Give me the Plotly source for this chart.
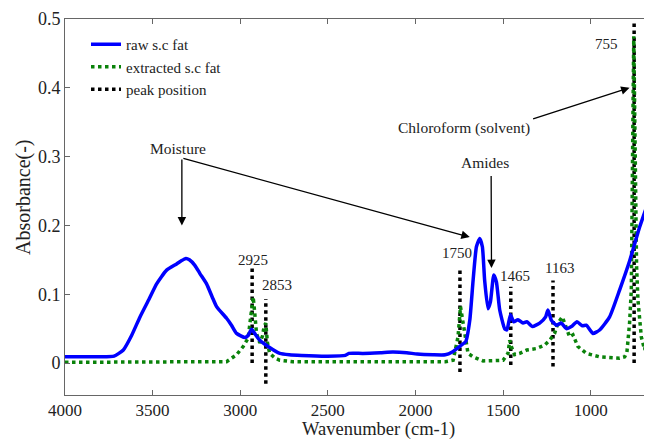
import plotly.graph_objects as go

# ---------------- data ----------------
raw_wn = [4000, 3900, 3800, 3720, 3667, 3620, 3572, 3520, 3477, 3420, 3363, 3340,
          3310, 3290, 3259, 3230, 3192, 3160, 3135, 3078, 3050, 3021, 2973, 2955,
          2935, 2915, 2888, 2841, 2774, 2720, 2650, 2500, 2400, 2380, 2300, 2200,
          2130, 2050, 1990, 1900, 1830, 1790, 1738, 1713, 1690, 1671, 1652, 1633,
          1618, 1605, 1586, 1572, 1553, 1538, 1519, 1491, 1478, 1458, 1439, 1415,
          1386, 1364, 1333, 1291, 1257, 1244, 1224, 1196, 1167, 1139, 1110, 1078,
          1048, 1025, 987, 949, 892, 835, 777, 720, 663, 650]
raw_abs = [0.009, 0.009, 0.009, 0.010, 0.019, 0.040, 0.067, 0.093, 0.115, 0.135, 0.144, 0.148,
           0.152, 0.150, 0.142, 0.130, 0.115, 0.096, 0.082, 0.065, 0.055, 0.043, 0.037, 0.040,
           0.049, 0.042, 0.033, 0.024, 0.014, 0.012, 0.011, 0.010, 0.011, 0.014, 0.014, 0.015,
           0.016, 0.015, 0.013, 0.012, 0.012, 0.016, 0.026, 0.031, 0.062, 0.120, 0.169, 0.181,
           0.169, 0.120, 0.079, 0.089, 0.128, 0.118, 0.077, 0.050, 0.048, 0.070, 0.060, 0.063,
           0.058, 0.060, 0.053, 0.058, 0.067, 0.077, 0.062, 0.055, 0.058, 0.050, 0.053, 0.060,
           0.054, 0.055, 0.043, 0.048, 0.067, 0.106, 0.149, 0.198, 0.240, 0.250]

ext_wn = [4000, 3500, 3100, 3078, 3021, 2983, 2955, 2945, 2935, 2926, 2918, 2907,
          2888, 2872, 2864, 2854, 2845, 2832, 2800, 2774, 2700, 2200, 1830, 1785,
          1757, 1743, 1724, 1700, 1671, 1614, 1500, 1472, 1462, 1453, 1434, 1405,
          1364, 1310, 1263, 1234, 1206, 1187, 1162, 1143, 1120, 1101, 1073, 1025,
          949, 835, 806, 793, 788, 778, 768, 763, 758, 754, 750, 745, 738, 730,
          711, 692, 673, 660, 650]
ext_abs = [0.001, 0.001, 0.001, 0.002, 0.012, 0.024, 0.036, 0.055, 0.077, 0.096, 0.075, 0.043,
           0.029, 0.040, 0.053, 0.058, 0.030, 0.014, 0.007, 0.004, 0.002, 0.002, 0.002, 0.004,
           0.038, 0.082, 0.048, 0.014, 0.009, 0.003, 0.004, 0.014, 0.033, 0.024, 0.012, 0.014,
           0.019, 0.021, 0.026, 0.033, 0.043, 0.058, 0.067, 0.053, 0.038, 0.041, 0.024, 0.014,
           0.009, 0.007, 0.009, 0.016, 0.029, 0.058, 0.106, 0.200, 0.380, 0.475, 0.400, 0.250, 0.140, 0.091,
           0.038, 0.019, 0.048, 0.062, 0.065]

peak_pos = [2932, 2854, 1746, 1456, 1215, 752]
peak_bottom = [0.0, -0.03, -0.013, -0.003, -0.005, 0.0]
peak_top = [0.14, 0.093, 0.137, 0.111, 0.12, 0.495]
peak_labels = ["2925", "2853", "1750", "1465", "1163", "755"]
label_x = [2928, 2793, 1763, 1434, 1177, 909]
label_y = [0.149, 0.114, 0.160, 0.126, 0.138, 0.464]

x_ticks = [4000, 3500, 3000, 2500, 2000, 1500, 1000]
y_ticks = [0, 0.1, 0.2, 0.3, 0.4, 0.5]

FONT = "Liberation Serif, Times New Roman, serif"
TXT = "#222222"

# page body has an 8px default margin; figure size/margins compensate for it
PAGE_OFF = 8
PLOT_L, PLOT_R, PLOT_T, PLOT_B = 65, 652, 19, 395   # plot area in page pixels
PW, PH = PLOT_R - PLOT_L, PLOT_B - PLOT_T


def paper_x(px):
    return (px - PLOT_L) / PW


def paper_y(py):
    return (PLOT_B - py) / PH


# ---------------- figure ----------------
px_, py_ = [], []
for p, b, t in zip(peak_pos, peak_bottom, peak_top):
    px_ += [p, p, None]
    py_ += [b, t, None]

fig = go.Figure()
fig.add_trace(go.Scatter(x=px_, y=py_, mode="lines", name="peak position",
                         line=dict(color="black", width=3.5, dash="dot"),
                         legendrank=3))
fig.add_trace(go.Scatter(x=ext_wn, y=ext_abs, mode="lines", name="extracted s.c fat",
                         line=dict(color="#0a820a", width=3.5, dash="dot"),
                         legendrank=2))
fig.add_trace(go.Scatter(x=raw_wn, y=raw_abs, mode="lines", name="raw s.c fat",
                         line=dict(color="#0000ff", width=3.5, shape="spline", smoothing=0.5),
                         legendrank=1))

ann = []
for t, x, y in zip(peak_labels, label_x, label_y):
    ann.append(dict(x=x, y=y, text=t, showarrow=False, xref="x", yref="y",
                    font=dict(size=15, family=FONT, color=TXT)))

# annotation texts
ann.append(dict(x=3356, y=0.312, text="Moisture", showarrow=False,
                font=dict(size=15.5, family=FONT, color=TXT)))
ann.append(dict(x=1605, y=0.292, text="Amides", showarrow=False,
                font=dict(size=15.5, family=FONT, color=TXT)))
ann.append(dict(x=1725, y=0.342, text="Chloroform (solvent)", showarrow=False,
                font=dict(size=15.5, family=FONT, color=TXT)))

# arrows (tail -> head)
arrows = [((3333, 0.298), (3333, 0.200)),
          ((3333, 0.298), (1690, 0.183)),
          ((1568, 0.274), (1566, 0.138)),
          ((1337, 0.354), (778, 0.400))]
for (tx, ty), (hx, hy) in arrows:
    ann.append(dict(x=hx, y=hy, ax=tx, ay=ty, axref="x", ayref="y", xref="x", yref="y",
                    text="", showarrow=True, arrowhead=2, arrowsize=1.3, arrowwidth=1.3,
                    arrowcolor="black", standoff=0, startstandoff=0))

# axis titles as text
ann.append(dict(x=paper_x(378), y=paper_y(429.5), xref="paper", yref="paper",
                text="Wavenumber (cm-1)", showarrow=False, xanchor="center", yanchor="middle",
                font=dict(size=18.5, family=FONT, color=TXT)))
ann.append(dict(x=paper_x(23), y=paper_y(197), xref="paper", yref="paper",
                text="Absorbance(-)", showarrow=False, textangle=-90,
                xanchor="center", yanchor="middle",
                font=dict(size=20, family=FONT, color=TXT)))

fig.update_layout(
    width=652 - PAGE_OFF, height=440 - PAGE_OFF,
    margin=dict(l=PLOT_L - PAGE_OFF, r=0, t=PLOT_T - PAGE_OFF, b=440 - PLOT_B, autoexpand=False),
    paper_bgcolor="white", plot_bgcolor="white",
    showlegend=True,
    legend=dict(x=paper_x(86), y=paper_y(28), xanchor="left", yanchor="top",
                bgcolor="rgba(0,0,0,0)", borderwidth=0,
                font=dict(size=15, family=FONT, color=TXT),
                tracegroupgap=0, itemwidth=30),
    annotations=ann,
    font=dict(family=FONT, color=TXT),
)
fig.update_xaxes(range=[4000, 650], tickvals=x_ticks, ticks="inside", ticklen=5,
                 showgrid=False, zeroline=False, showline=True, linecolor="#666666",
                 linewidth=1, mirror="ticks", tickcolor="#666666",
                 tickfont=dict(size=17, family=FONT, color=TXT))
fig.update_yaxes(range=[-0.0465, 0.5], tickvals=y_ticks, ticktext=["0", "0.1", "0.2", "0.3", "0.4", "0.5"],
                 ticks="inside", ticklen=5,
                 showgrid=False, zeroline=False, showline=True, linecolor="#666666",
                 linewidth=1, tickcolor="#666666",
                 tickfont=dict(size=18, family=FONT, color=TXT))

fig.write_html("out.html")
